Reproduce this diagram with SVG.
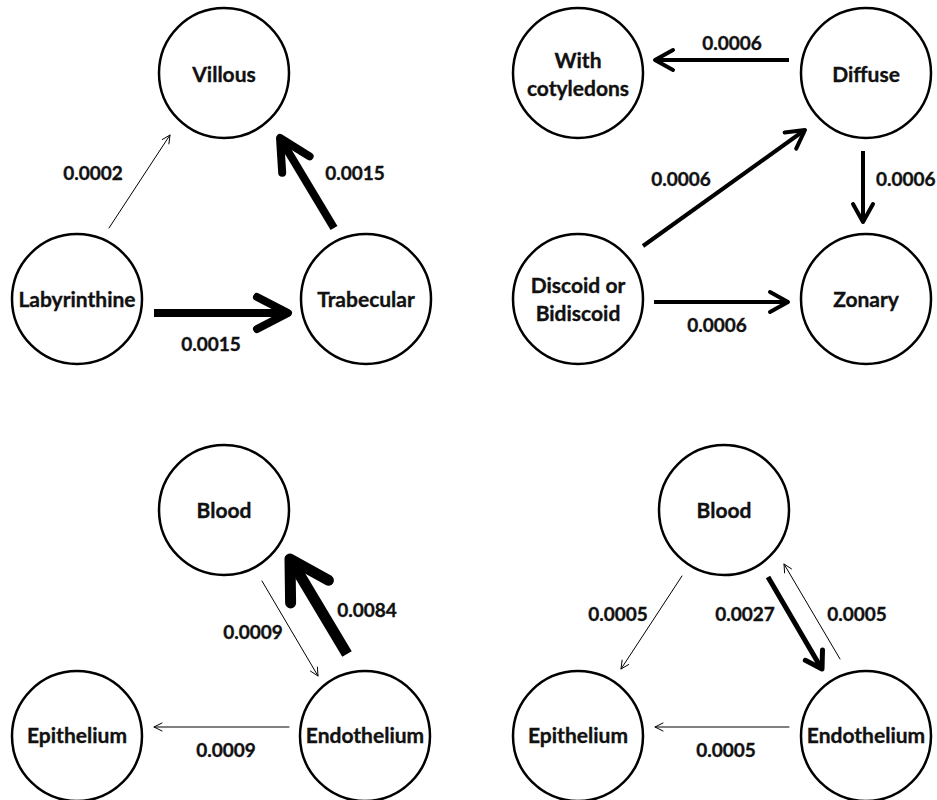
<svg xmlns="http://www.w3.org/2000/svg" width="937" height="800" viewBox="0 0 937 800">
<style>
.node circle{fill:#fff;stroke:#000;stroke-width:2.5}
text{font-family:Lato,"Liberation Sans",sans-serif;font-weight:bold;font-size:19px;fill:#111;stroke:#111;stroke-width:0.35;text-anchor:middle}
.node text{font-size:21px}
.edges path{fill:none;stroke:#000;stroke-linecap:round;stroke-linejoin:round}
.w1{stroke-width:1}
.w4{stroke-width:4}
.w5{stroke-width:5}
.w7{stroke-width:8}
.w10{stroke-width:11}
</style>
<rect width="937" height="800" fill="#fff"/>
<g class="edges" id="connectors">
<path class="w1" d="M109,228 L170,135 M168.9,143.9 L170,135 L162.3,139.5"/>
<path class="w7" d="M334,228 L283,143" style="stroke-linecap:butt"/>
<path class="w7" d="M309.6,156.4 L280,138 L282.2,172.8"/>
<path class="w7" d="M154,313 L282,313" style="stroke-linecap:butt"/>
<path class="w7" d="M257,297 L288,313 L257,329"/>
<path class="w4" d="M789,60 L657,60" style="stroke-linecap:butt"/>
<path class="w4" d="M673,50 L655,60 L673,70"/>
<path class="w4" d="M643,246 L802,132" style="stroke-linecap:butt"/>
<path class="w4" d="M796.2,148.6 L805,130 L784.6,132.4"/>
<path class="w4" d="M863,151 L863,220" style="stroke-linecap:butt"/>
<path class="w4" d="M853,204 L863,222 L873,204"/>
<path class="w4" d="M654,302 L786,302" style="stroke-linecap:butt"/>
<path class="w4" d="M770,292 L788,302 L770,312"/>
<path class="w1" d="M262,581 L318,676 M310.5,671.1 L318,676 L317.4,667.1"/>
<path class="w10" d="M347,654 L295,567" style="stroke-linecap:butt"/>
<path class="w10" d="M328.4,580.3 L290,559 L290.6,602.9"/>
<path class="w1" d="M289,727 L154,727 M162,723 L154,727 L162,731"/>
<path class="w1" d="M682,576 L621,669 M628.7,664.5 L621,669 L622.1,660.1"/>
<path class="w5" d="M768,577 L820,666" style="stroke-linecap:butt"/>
<path class="w5" d="M805.3,660.3 L822,669 L822.5,650.1"/>
<path class="w1" d="M840,659 L784,564 M791.5,568.9 L784,564 L784.6,572.9"/>
<path class="w1" d="M789,727 L655,727 M663,723 L655,727 L663,731"/>
</g>
<g id="edge-labels">
<text x="93" y="180">0.0002</text>
<text x="355" y="180">0.0015</text>
<text x="211" y="351">0.0015</text>
<text x="732" y="50">0.0006</text>
<text x="681" y="186">0.0006</text>
<text x="876" y="186" style="text-anchor:start">0.0006</text>
<text x="717" y="332">0.0006</text>
<text x="253" y="639">0.0009</text>
<text x="367" y="617">0.0084</text>
<text x="226" y="757">0.0009</text>
<text x="618" y="621">0.0005</text>
<text x="745" y="621">0.0027</text>
<text x="857" y="621">0.0005</text>
<text x="726" y="757">0.0005</text>
</g>
<g id="villous" class="node"><circle cx="224" cy="73" r="65"/><text x="224" y="82">Villous</text></g>
<g id="labyrinthine" class="node"><circle cx="77" cy="299" r="65"/><text x="77" y="307">Labyrinthine</text></g>
<g id="trabecular" class="node"><circle cx="366" cy="299" r="65"/><text x="366" y="307">Trabecular</text></g>
<g id="with-cotyledons" class="node"><circle cx="578" cy="73" r="65"/><text x="578" y="68">With</text><text x="578" y="96">cotyledons</text></g>
<g id="diffuse" class="node"><circle cx="866" cy="73" r="65"/><text x="866" y="82">Diffuse</text></g>
<g id="discoid" class="node"><circle cx="578" cy="299" r="65"/><text x="578" y="293">Discoid or</text><text x="578" y="321">Bidiscoid</text></g>
<g id="zonary" class="node"><circle cx="866" cy="299" r="65"/><text x="866" y="307">Zonary</text></g>
<g id="blood-1" class="node"><circle cx="224" cy="510" r="65"/><text x="224" y="518">Blood</text></g>
<g id="epithelium-1" class="node"><circle cx="77" cy="736" r="65"/><text x="77" y="743">Epithelium</text></g>
<g id="endothelium-1" class="node"><circle cx="365" cy="736" r="65"/><text x="365" y="743">Endothelium</text></g>
<g id="blood-2" class="node"><circle cx="724" cy="510" r="65"/><text x="724" y="518">Blood</text></g>
<g id="epithelium-2" class="node"><circle cx="578" cy="736" r="65"/><text x="578" y="743">Epithelium</text></g>
<g id="endothelium-2" class="node"><circle cx="866" cy="736" r="65"/><text x="866" y="743">Endothelium</text></g>
</svg>
